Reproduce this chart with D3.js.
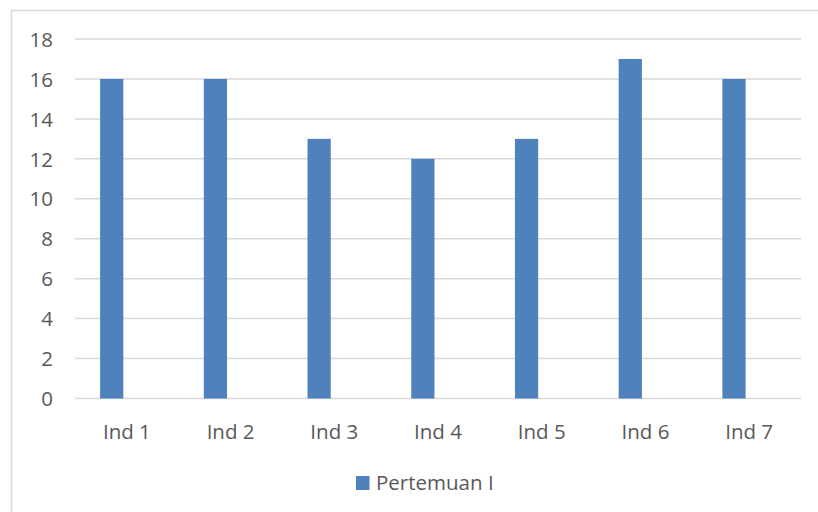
<!DOCTYPE html>
<html><head><meta charset="utf-8">
<script src="https://cdn.jsdelivr.net/npm/d3@7"></script>
<style>html,body{margin:0;padding:0;background:#fff;}svg{display:block;}</style>
</head><body>
<script>
const categories = ["Ind 1","Ind 2","Ind 3","Ind 4","Ind 5","Ind 6","Ind 7"];
const values = [16,16,13,12,13,17,16];
const seriesName = "Pertemuan I";
const yTicks = [0,2,4,6,8,10,12,14,16,18];

const W = 818, H = 512;
const svg = d3.select("body").append("svg").attr("width", W).attr("height", H);
const font = "'Open Sans', sans-serif";
const fs = 20.5;
const txt = "#595959";

// chart area border (top and left visible)
svg.append("line").attr("x1",11).attr("x2",W).attr("y1",10.5).attr("y2",10.5).attr("stroke","#d9d9d9").attr("stroke-width",1.5);
svg.append("line").attr("x1",11.5).attr("x2",11.5).attr("y1",10).attr("y2",H).attr("stroke","#d9d9d9").attr("stroke-width",1.5);

const pLeft = 75, pRight = 801, pTop = 39, pBottom = 398.5;
const x = d3.scaleBand().domain(categories).range([pLeft, pRight]).paddingInner(0).paddingOuter(0);
const y = d3.scaleLinear().domain([0,18]).range([pBottom, pTop]);

// gridlines
svg.append("g").selectAll("line").data(yTicks).join("line")
  .attr("x1", pLeft).attr("x2", pRight)
  .attr("y1", d => y(d)).attr("y2", d => y(d))
  .attr("stroke", "#d9d9d9").attr("stroke-width", 1.5);

// y axis labels
const yAxis = d3.axisLeft(y).tickValues(yTicks).tickSize(0).tickPadding(0);
const gy = svg.append("g").attr("transform", "translate(53,0)").call(yAxis);
gy.select(".domain").remove();
gy.selectAll("text").attr("font-family", font).attr("font-size", fs).attr("fill", txt).attr("dy","0.35em");

// bars (first of two slots in each category)
const bw = x.bandwidth();
svg.append("g").selectAll("rect").data(values).join("rect")
  .attr("x", (d,i) => x(categories[i]) + bw*0.242)
  .attr("width", bw*0.224)
  .attr("y", d => y(d))
  .attr("height", d => y(0) - y(d))
  .attr("fill", "#4f81bd");

// x axis labels
const xAxis = d3.axisBottom(x).tickSize(0).tickPadding(0);
const gx = svg.append("g").attr("transform", `translate(0,${pBottom+33})`).call(xAxis);
gx.select(".domain").remove();
gx.selectAll("text").attr("font-family", font).attr("font-size", fs).attr("fill", txt).attr("dy","0.35em");

// legend
const lg = svg.append("g");
lg.append("rect").attr("x",356).attr("y",476).attr("width",13.5).attr("height",14).attr("fill","#4f81bd");
lg.append("text").attr("x",376).attr("y",483).attr("dy","0.35em").text(seriesName)
  .attr("font-family", font).attr("font-size", fs).attr("fill", txt);
</script>
</body></html>
